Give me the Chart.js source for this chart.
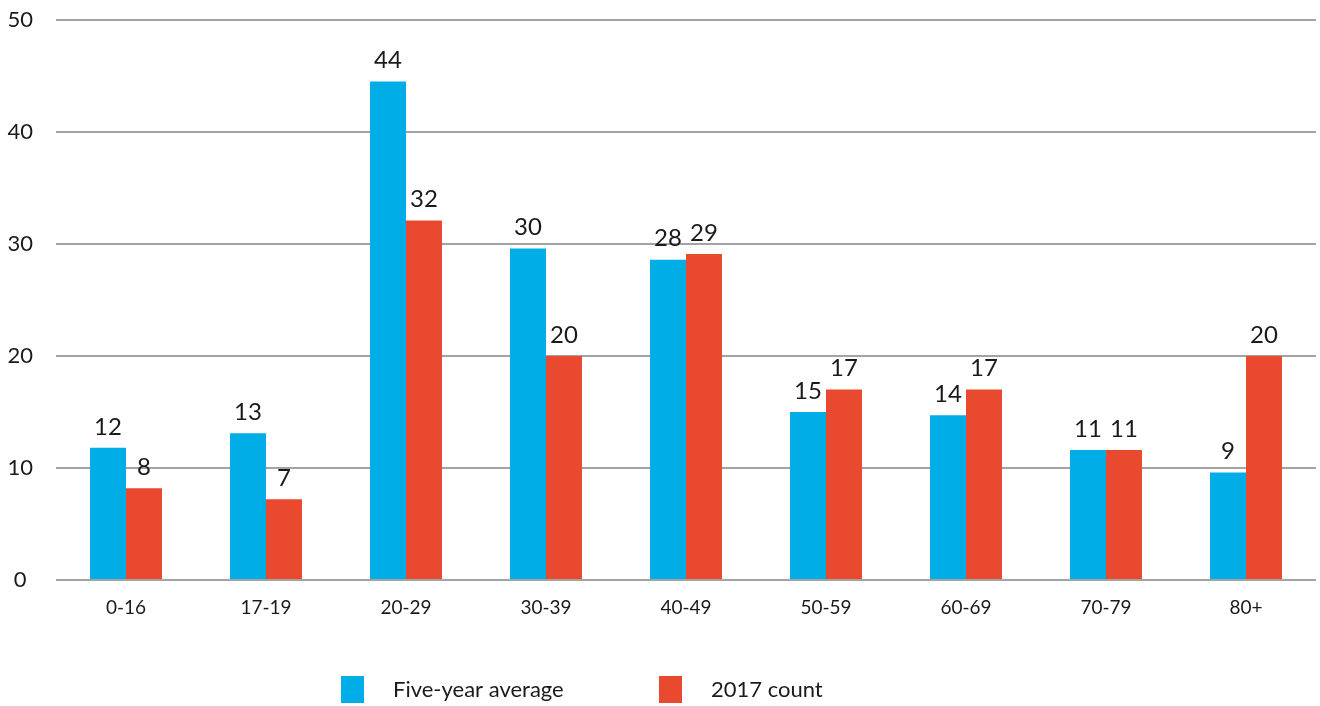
<!DOCTYPE html>
<html>
<head>
<meta charset="utf-8">
<script src="https://cdn.jsdelivr.net/npm/chart.js@4"></script>
<style>
  html, body { margin: 0; padding: 0; background: #fff; }
  #wrap { width: 1320px; height: 706px; }
</style>
</head>
<body>
<div id="wrap"><canvas id="ageChart" width="1320" height="706"></canvas></div>
<script>
// age bands and values
const ageBands = ['0-16', '17-19', '20-29', '30-39', '40-49', '50-59', '60-69', '70-79', '80+'];
const fiveYearAverage = [11.8, 13.1, 44.5, 29.6, 28.6, 15.0, 14.7, 11.6, 9.6];
const count2017 = [8.2, 7.2, 32.1, 20.0, 29.1, 17.0, 17.0, 11.6, 20.0];
// labels as printed above the bars
const averageLabels = ['12', '13', '44', '30', '28', '15', '14', '11', '9'];
const countLabels = ['8', '7', '32', '20', '29', '17', '17', '11', '20'];
const yTicks = [0, 10, 20, 30, 40, 50];

const BLUE = '#00ade7';
const RED = '#e8492f';
const FONT = 'Lato, "Open Sans", sans-serif';

// numbers above each bar
const barValueLabels = {
  id: 'barValueLabels',
  afterDatasetsDraw(chart) {
    const ctx = chart.ctx;
    const texts = [averageLabels, countLabels];
    ctx.save();
    ctx.font = '24px ' + FONT;
    ctx.fillStyle = '#1a1a1a';
    ctx.textAlign = 'center';
    ctx.textBaseline = 'bottom';
    chart.data.datasets.forEach((ds, d) => {
      chart.getDatasetMeta(d).data.forEach((bar, i) => {
        ctx.fillText(texts[d][i], bar.x, bar.y - 9);
      });
    });
    ctx.restore();
  }
};

// legend drawn below the axis
const bottomLegend = {
  id: 'bottomLegend',
  afterDraw(chart) {
    const ctx = chart.ctx;
    const items = chart.data.datasets;
    const starts = [341, 659];
    ctx.save();
    ctx.font = '22px ' + FONT;
    ctx.textBaseline = 'middle';
    ctx.textAlign = 'left';
    items.forEach((ds, i) => {
      ctx.fillStyle = ds.backgroundColor;
      ctx.fillRect(starts[i], 676, 23, 27);
      ctx.fillStyle = '#1a1a1a';
      ctx.fillText(ds.label, starts[i] + 52, 690);
    });
    ctx.restore();
  }
};

const ctx = document.getElementById('ageChart').getContext('2d');
new Chart(ctx, {
  type: 'bar',
  data: {
    labels: ageBands,
    datasets: [
      {
        label: 'Five-year average',
        data: fiveYearAverage,
        backgroundColor: BLUE,
        barPercentage: 1,
        categoryPercentage: 0.514
      },
      {
        label: '2017 count',
        data: count2017,
        backgroundColor: RED,
        barPercentage: 1,
        categoryPercentage: 0.514
      }
    ]
  },
  options: {
    responsive: false,
    animation: false,
    layout: { padding: { top: 20, right: 4, bottom: 80, left: 0 } },
    plugins: {
      legend: { display: false },
      tooltip: { enabled: false }
    },
    scales: {
      x: {
        grid: { display: false, drawTicks: false },
        border: { display: false },
        ticks: { color: '#1a1a1a', font: { family: FONT, size: 19 }, padding: 16 },
        afterFit(scale) { scale.height = 46; }
      },
      y: {
        min: 0,
        max: 50,
        afterBuildTicks(scale) { scale.ticks = yTicks.map(v => ({ value: v })); },
        grid: { color: '#a3a3a3', lineWidth: 2, drawTicks: false },
        border: { display: false },
        ticks: { color: '#1a1a1a', font: { family: FONT, size: 22 }, padding: 23, crossAlign: 'center' },
        afterFit(scale) {
          scale.width = 56;
          scale.paddingTop = 0;
          scale.paddingBottom = 0;
        }
      }
    }
  },
  plugins: [barValueLabels, bottomLegend]
});
</script>
</body>
</html>
